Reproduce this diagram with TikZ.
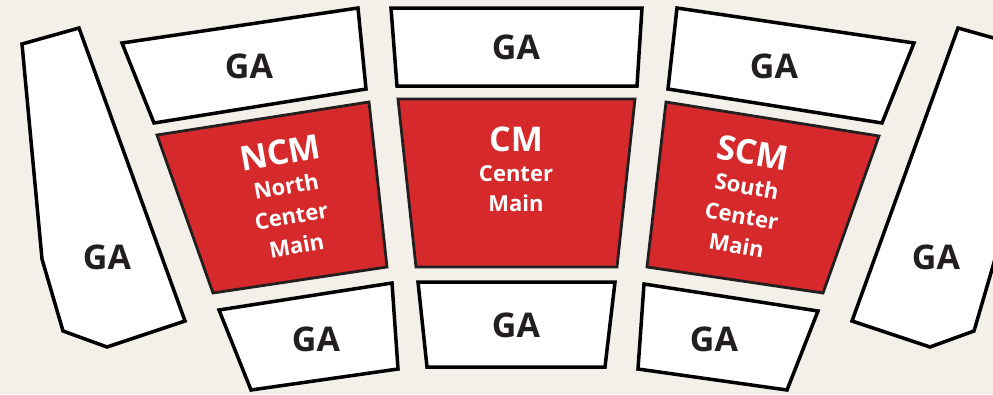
\documentclass[tikz,border=0pt]{standalone}
\usepackage{fontspec}
\setmainfont{Open Sans}
\definecolor{floor}{RGB}{243,240,234}
\definecolor{mainred}{RGB}{213,41,43}
\definecolor{ink}{RGB}{35,31,32}
\tikzset{
	gabox/.style = {draw=black, fill=white, line width=3.5pt, line join=miter},
	mainbox/.style = {draw=ink, fill=mainred, line width=2.8pt, line join=miter},
	galabel/.style = {text=ink, font=\fontsize{34}{38}\selectfont\bfseries, inner sep=0pt},
	mainlabel/.style = {text=white, align=center, inner sep=0pt,
		font=\fontsize{22}{30}\selectfont\bfseries},
}
\newcommand{\bigtag}[1]{{\fontsize{34}{37}\selectfont #1}}

\begin{document}
\begin{tikzpicture}[x=1pt, y=-1pt]
	\fill [floor] (0, 0) rectangle (993, 394);
	\useasboundingbox (0, 0) rectangle (993, 394);
	% side wings
	\draw [gabox] (22, 44) -- (79, 28) -- (185, 321) -- (107, 347) -- (63, 331) -- (42, 259) -- cycle;
	\draw [gabox] (958, 28) -- (1015, 44) -- (995, 259) -- (974, 331) -- (930, 347) -- (852, 321) -- cycle;
	% top row
	\draw [gabox] (122, 43) -- (358, 8) -- (366, 89) -- (154, 123) -- cycle;
	\draw [gabox] (391, 8) -- (642, 8) -- (637, 86) -- (397, 86) -- cycle;
	\draw [gabox] (677, 8) -- (914, 43) -- (882, 123) -- (668, 89) -- cycle;
	% main sections
	\draw [mainbox] (157, 135) -- (369, 102) -- (387, 267) -- (213, 293) -- cycle;
	\draw [mainbox] (398, 99) -- (635, 99) -- (617, 267) -- (416, 267) -- cycle;
	\draw [mainbox] (666, 102) -- (879, 136) -- (823, 293) -- (647, 267) -- cycle;
	% bottom row
	\draw [gabox] (219, 310) -- (392, 283) -- (398, 369) -- (251, 390) -- cycle;
	\draw [gabox] (418, 282) -- (615, 282) -- (605, 367) -- (427, 367) -- cycle;
	\draw [gabox] (644, 284) -- (818, 311) -- (787, 390) -- (638, 369) -- cycle;
	% labels
	\node [galabel] (ga-west) at (107, 257) {GA};
	\node [galabel] (ga-east) at (936, 257) {GA};
	\node [galabel] (ga-nw) at (249, 66) {GA};
	\node [galabel] (ga-n) at (516, 47) {GA};
	\node [galabel] (ga-ne) at (774, 66) {GA};
	\node [galabel] (ga-sw) at (316, 339) {GA};
	\node [galabel] (ga-s) at (516, 325) {GA};
	\node [galabel] (ga-se) at (714, 339) {GA};
	\node [mainlabel, rotate=10] (ncm) at (288, 197) {\bigtag{NCM}\\North\\Center\\Main};
	\node [mainlabel] (cm) at (516, 169) {\bigtag{CM}\\Center\\Main};
	\node [mainlabel, rotate=-10] (scm) at (745, 197) {\bigtag{SCM}\\South\\Center\\Main};
\end{tikzpicture}
\end{document}
